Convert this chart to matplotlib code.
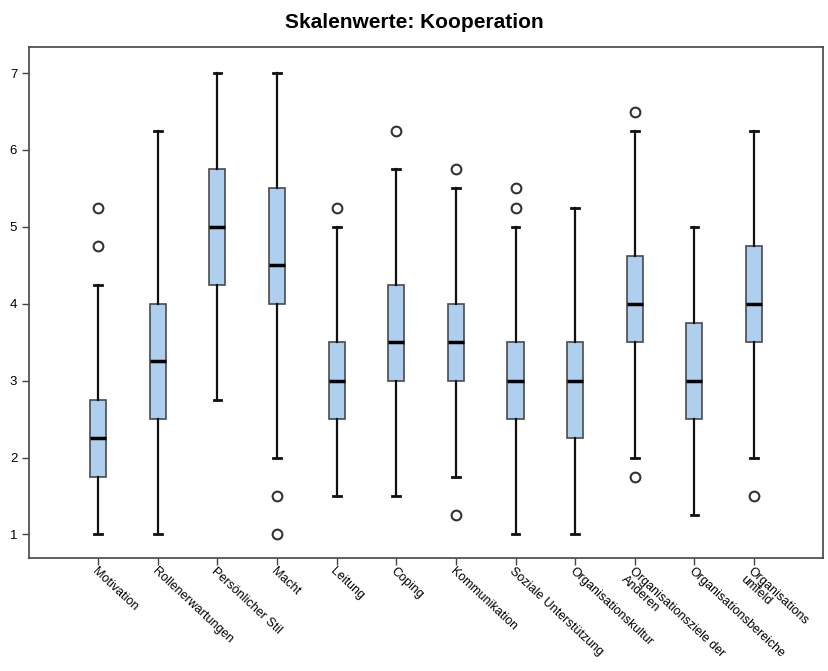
import matplotlib
matplotlib.use("Agg")
import matplotlib.pyplot as plt

plt.rcParams['font.family'] = ['Liberation Sans', 'DejaVu Sans']

categories = ["Motivation", "Rollenerwartungen", "Persönlicher Stil", "Macht", "Leitung",
              "Coping", "Kommunikation", "Soziale Unterstützung", "Organisationskultur",
              "Organisationsziele der\nAnderen", "Organisationsbereiche", "Organisations\numfeld"]
whislo = [1.0, 1.0, 2.75, 2.0, 1.5, 1.5, 1.75, 1.0, 1.0, 2.0, 1.25, 2.0]
q1     = [1.75, 2.5, 4.25, 4.0, 2.5, 3.0, 3.0, 2.5, 2.25, 3.5, 2.5, 3.5]
med    = [2.25, 3.25, 5.0, 4.5, 3.0, 3.5, 3.5, 3.0, 3.0, 4.0, 3.0, 4.0]
q3     = [2.75, 4.0, 5.75, 5.5, 3.5, 4.25, 4.0, 3.5, 3.5, 4.625, 3.75, 4.75]
whishi = [4.25, 6.25, 7.0, 7.0, 5.0, 5.75, 5.5, 5.0, 5.25, 6.25, 5.0, 6.25]
outliers = [[4.75, 5.25], [], [], [1.0, 1.5], [5.25], [6.25], [1.25, 5.75],
            [5.25, 5.5], [], [1.75, 6.5], [], [1.5]]
yticks = [1, 2, 3, 4, 5, 6, 7]

stats = []
for i, c in enumerate(categories):
    stats.append(dict(label=c, whislo=whislo[i], q1=q1[i], med=med[i], q3=q3[i],
                      whishi=whishi[i], fliers=outliers[i]))

fig = plt.figure(figsize=(8.29, 6.71), dpi=100)
ax = fig.add_axes([0.035, 0.168, 0.958, 0.762])

positions = list(range(len(categories)))
ax.bxp(stats, positions=positions, widths=0.27, patch_artist=True, showfliers=True,
       boxprops=dict(facecolor='#AED0EE', edgecolor='#4a4a4a', linewidth=1.2),
       medianprops=dict(color='black', linewidth=2.5),
       whiskerprops=dict(color='#111111', linewidth=1.6),
       capprops=dict(color='#111111', linewidth=2.0),
       capwidths=0.13,
       flierprops=dict(marker='o', markerfacecolor='white', markeredgecolor='#333333',
                       markersize=7, markeredgewidth=1.5))

ax.set_xlim(-1.16, 12.16)
ax.set_ylim(0.69, 7.34)
ax.set_yticks(yticks)
ax.set_yticklabels([str(t) for t in yticks], fontsize=9.5)
ax.set_xticks(positions)
ax.set_xticklabels(categories, rotation=-43, ha='left', va='top',
                   rotation_mode='anchor', fontsize=9, linespacing=0.9)
ax.tick_params(axis='both', direction='out', length=5, width=1, color='#444444')
ax.tick_params(axis='x', pad=0)
for s in ax.spines.values():
    s.set_color('#444444')
    s.set_linewidth(1.2)

fig.text(0.5, 0.967, "Skalenwerte: Kooperation", ha='center', va='center',
         fontsize=15, fontweight='bold')

fig.savefig("out.png", dpi=100)
